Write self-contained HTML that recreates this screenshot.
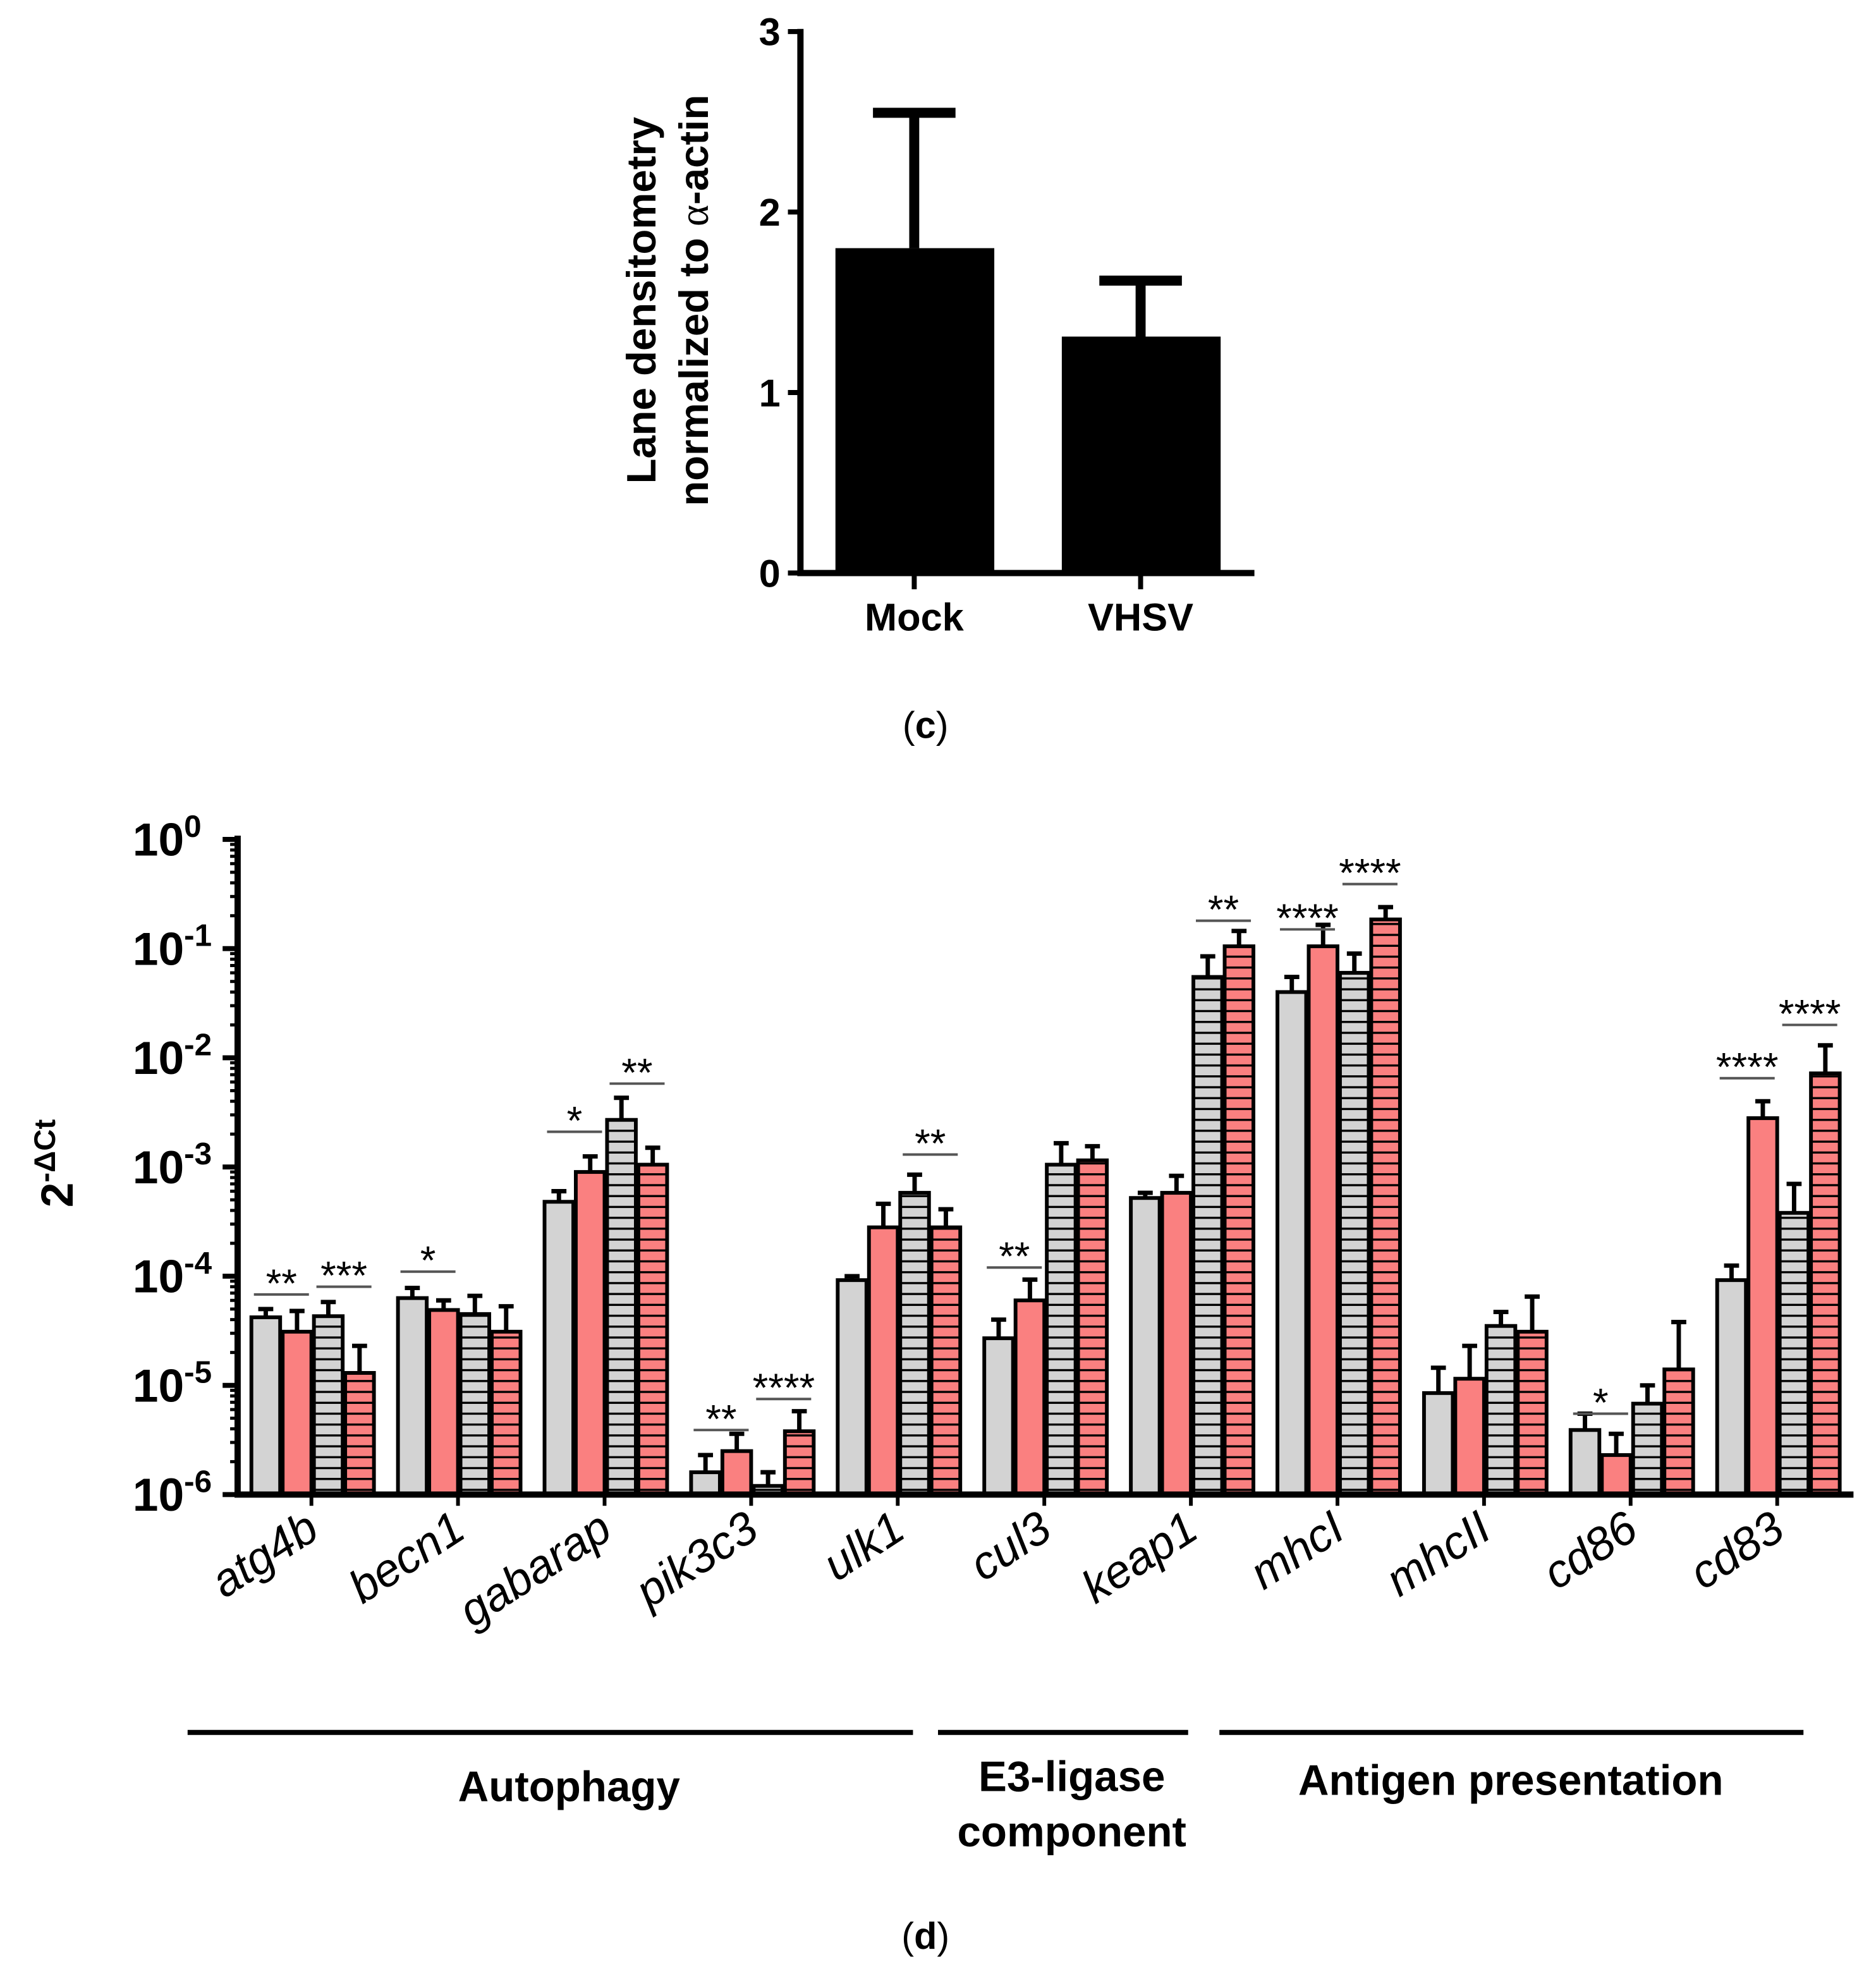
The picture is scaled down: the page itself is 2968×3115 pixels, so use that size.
<!DOCTYPE html>
<html><head><meta charset="utf-8"><style>
html,body{margin:0;padding:0;background:#fff}
svg{display:block}
text{font-family:"Liberation Sans",Arial,sans-serif}
</style></head><body>
<svg id="s" width="2968" height="3115" viewBox="0 0 1500 1574" xmlns="http://www.w3.org/2000/svg">
<defs>
<pattern id="pg" patternUnits="userSpaceOnUse" width="10" height="8.7"><rect width="10" height="8.7" fill="#d3d3d3"/><rect y="7" width="10" height="1.7" fill="#000"/></pattern>
<pattern id="pp" patternUnits="userSpaceOnUse" width="10" height="8.7"><rect width="10" height="8.7" fill="#fa8080"/><rect y="7" width="10" height="1.7" fill="#000"/></pattern>
</defs>
<g id="c"></g>
<g id="d"></g>
<text x="740" y="590" font-family="Liberation Serif" font-size="30" text-anchor="middle">(<tspan font-weight="bold">c</tspan>)</text>
<text x="740" y="1558" font-family="Liberation Serif" font-size="30" text-anchor="middle">(<tspan font-weight="bold">d</tspan>)</text>
</svg>
<script>
const NS="http://www.w3.org/2000/svg";
function mk(p,t,a,txt){const e=document.createElementNS(NS,t);for(const k in a)e.setAttribute(k,a[k]);if(txt!==undefined)e.textContent=txt;p.appendChild(e);return e;}
// ---- chart c data
const cCats=["Mock","VHSV"];
const cVals=[1.8,1.31];
const cErr=[0.75,0.31];
const cTicks=[0,1,2,3];
// ---- chart d data
const genes=["atg4b","becn1","gabarap","pik3c3","ulk1","cul3","keap1","mhcI","mhcII","cd86","cd83"];
const s1=[4.2e-5,6.3e-5,4.8e-4,1.6e-6,9.2e-5,2.7e-5,5.2e-4,4e-2,8.5e-6,3.9e-6,9.2e-5];
const s2=[3.1e-5,4.9e-5,9e-4,2.5e-6,2.8e-4,6e-5,5.8e-4,1.05e-1,1.15e-5,2.3e-6,2.8e-3];
const s3=[4.3e-5,4.5e-5,2.7e-3,1.2e-6,5.8e-4,1.05e-3,5.5e-2,6e-2,3.5e-5,6.8e-6,3.8e-4];
const s4=[1.3e-5,3.1e-5,1.05e-3,3.8e-6,2.8e-4,1.15e-3,1.05e-1,1.85e-1,3.1e-5,1.4e-5,7.2e-3];
const e1=[5e-5,7.8e-5,6e-4,2.3e-6,1e-4,4e-5,5.8e-4,5.5e-2,1.45e-5,5.5e-6,1.25e-4];
const e2=[4.8e-5,6e-5,1.25e-3,3.6e-6,4.6e-4,9.3e-5,8.3e-4,1.65e-1,2.3e-5,3.6e-6,4e-3];
const e3=[5.8e-5,6.6e-5,4.3e-3,1.6e-6,8.5e-4,1.65e-3,8.5e-2,9e-2,4.7e-5,1e-5,7e-4];
const e4=[2.3e-5,5.3e-5,1.5e-3,5.8e-6,4.1e-4,1.55e-3,1.45e-1,2.4e-1,6.5e-5,3.8e-5,1.3e-2];
const dTicks=[0,-1,-2,-3,-4,-5,-6];
const sigGene=[0,0,1,2,2,3,3,4,5,6,7,7,9,10,10];
const sigPair=[0,1,0,0,1,0,1,1,0,1,0,1,0,0,1];
const sigLabel=["**","***","*","*","**","**","****","**","**","**","****","****","*","****","****"];
const sigLevel=[6.8e-5,8e-5,1.1e-4,2.1e-3,5.8e-3,3.9e-6,7.5e-6,1.3e-3,1.2e-4,1.8e-1,1.5e-1,3.9e-1,5.5e-6,6.5e-3,2e-2];
const groupLabels=[["Autophagy"],["E3-ligase","component"],["Antigen presentation"]];

// ---- draw chart c
const C=document.getElementById('c');
const cy=v=>458-v*144.3, cx=i=>731+i*181;
cTicks.forEach(t=>{
 const l=mk(C,'line',{x1:630,x2:640,y1:cy(t),y2:cy(t),stroke:'#000','stroke-width':4});
 
 const tx=mk(C,'text',{x:624,y:cy(t)+11,'text-anchor':'end','font-size':31,'font-weight':'bold'},String(t));
 
});
cCats.forEach((c,i)=>{
 const x=cx(i);
 const b=mk(C,'rect',{x:x-63,y:cy(cVals[i]),width:127,height:cy(0)-cy(cVals[i]),fill:'#000'});
 
 const e=mk(C,'path',{d:`M${x},${cy(cVals[i])}V${cy(cVals[i]+cErr[i])}M${x-33},${cy(cVals[i]+cErr[i])}H${x+33}`,stroke:'#000','stroke-width':8,fill:'none'});
 
 const tk=mk(C,'line',{x1:x,x2:x,y1:458,y2:471,stroke:'#000','stroke-width':4});
 
 const lb=mk(C,'text',{x:x,y:504,'text-anchor':'middle','font-size':31,'font-weight':'bold'},c);
 
});
const cax=mk(C,'path',{d:'M640,23V458H1003',stroke:'#000','stroke-width':5,fill:'none'});

const ct=mk(C,'text',{transform:'translate(524,240) rotate(-90)','text-anchor':'middle','font-size':33,'font-weight':'bold'},'Lane densitometry');

const ct2=mk(C,'text',{transform:'translate(566,240) rotate(-90)','text-anchor':'middle','font-size':33,'font-weight':'bold'});

ct2.innerHTML='normalized to <tspan font-family="Liberation Serif" font-weight="normal">α</tspan>-actin';

// ---- draw chart d
const D=document.getElementById('d');
const dy=v=>671-Math.log10(v)*87.3;
const yExp=lg=>671-lg*87.3;
const gx=i=>249+i*117.2;
const barX=(i,k)=>gx(i)-48+k*25;
for(let d=0;d>-6;d--){for(let m=2;m<=9;m++){const y=yExp(d-1+Math.log10(m));
 const l=mk(D,'line',{x1:184,x2:190,y1:y,y2:y,stroke:'#000','stroke-width':2.5});
 }}
dTicks.forEach(t=>{
 const y=yExp(t);
 const l=mk(D,'line',{x1:178,x2:190,y1:y,y2:y,stroke:'#000','stroke-width':4});
 
 const tx=mk(D,'text',{x:106,y:y+13,'font-size':37,'font-weight':'bold'});
 
 tx.innerHTML='10<tspan dy="-15" font-size="25">'+(t===0?'0':'-'+(-t))+'</tspan>';
});
const series=[s1,s2,s3,s4], errs=[e1,e2,e3,e4];
const fills=['#d3d3d3','#fa8080','url(#pg)','url(#pp)'];
const y0=yExp(-6);
genes.forEach((g,i)=>{
 series.forEach((s,k)=>{
  const x=barX(i,k), y=dy(s[i]);
  const ey=dy(errs[k][i]);
  const e=mk(D,'path',{d:`M${x+11.5},${y}V${ey}M${x+5.5},${ey}H${x+17.5}`,stroke:'#000','stroke-width':3.5,fill:'none'});
  
  const b=mk(D,'rect',{x:x,y:y,width:23,height:Math.max(0,y0-y),fill:fills[k],stroke:'#000','stroke-width':3});
  
 });
 const tk=mk(D,'line',{x1:gx(i),x2:gx(i),y1:y0,y2:y0+9,stroke:'#000','stroke-width':3});
 
 const lb=mk(D,'text',{transform:`translate(${gx(i)+8},${1228}) rotate(-33)`,'text-anchor':'end','font-size':37,'font-style':'italic'},g);
 
});
sigGene.forEach((gi,j)=>{
 const x1=barX(gi,sigPair[j]*2)+2, x2=barX(gi,sigPair[j]*2+1)+21;
 const y=dy(sigLevel[j]);
 const l=mk(D,'line',{x1:x1,x2:x2,y1:y,y2:y,stroke:'#555','stroke-width':2});
 
 const t=mk(D,'text',{x:(x1+x2)/2,y:y+2,'text-anchor':'middle','font-size':32},sigLabel[j]);
 
});
const dax=mk(D,'path',{d:`M190,668V${y0}H1482`,stroke:'#000','stroke-width':5,fill:'none'});

const yt=mk(D,'text',{transform:'translate(58,930) rotate(-90)','text-anchor':'middle','font-size':36,'font-weight':'bold'});

yt.innerHTML='2<tspan dy="-14" font-size="24">-ΔCt</tspan>';
const gxs=[[150,730],[750,950],[975,1442]];
const gly=[[1440],[1432,1476],[1435]];
groupLabels.forEach((lbls,i)=>{
 const l=mk(D,'line',{x1:gxs[i][0],x2:gxs[i][1],y1:1385,y2:1385,stroke:'#000','stroke-width':4});
 
 lbls.forEach((s,j)=>{
  const t=mk(D,'text',{x:[455,857,1208][i],y:gly[i][j],'text-anchor':'middle','font-size':34,'font-weight':'bold'},s);
  
 });
});
</script>
</body></html>
